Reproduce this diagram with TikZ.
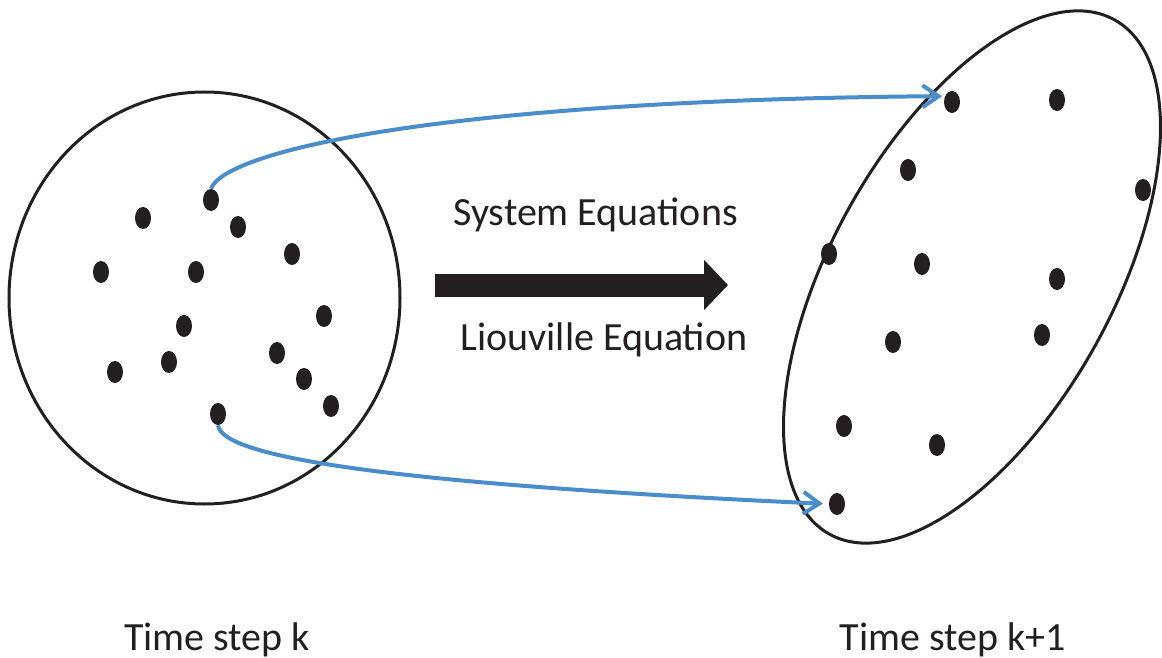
\documentclass[tikz,border=0pt]{standalone}
\usepackage{fontspec}
\setmainfont{Carlito}
\usetikzlibrary{arrows.meta,shapes.geometric}
\definecolor{flowblue}{RGB}{74,141,203}
\definecolor{inkblack}{RGB}{35,31,32}
\begin{document}
\begin{tikzpicture}[x=1pt,y=-1pt,
  dot/.style={ellipse,fill=inkblack,inner sep=0pt,minimum width=16pt,minimum height=22pt},
  flow/.style={flowblue,line width=4pt,-{Straight Barb[length=16pt,width=22pt]}},
  cloud/.style={inkblack,line width=3pt},
  txt/.style={font=\fontsize{40}{48}\selectfont,text=inkblack,anchor=base,inner sep=0pt}]
  \useasboundingbox (0,0) rectangle (1162,658);
  \draw[cloud] (204.5,298) ellipse [x radius=195.5,y radius=206];
  \draw[cloud] (972,277) ellipse [x radius=294,y radius=141,rotate=61];
  \foreach \x/\y [count=\i] in {143/218,211/200,238/227,292/254,101/272,196/272,324/316,184/326,277/353,169/362,115/372,304/379,331/406,218/414}
    \node[dot] (l\i) at (\x,\y) {};
  \foreach \x/\y [count=\i] in {952/102,1057/100,908/170,1143/190,829/254,922/264,1057/279,1042/335,893/342,844/426,937/445,837/504}
    \node[dot] (r\i) at (\x,\y) {};
  \draw[flow,shorten >=3pt] (l2.north) .. controls (225,150) and (450,100) .. (r1.140);
  \draw[flow,shorten >=6pt] (l14.south) .. controls (222,460) and (420,485) .. (r12.west);
  \coordinate (push0) at (435,285);
  \coordinate (push1) at (728,285);
  \draw[inkblack,line width=23pt,-{Triangle[length=24pt,width=49pt]}] (push0) -- (push1);
  \node[txt] (sys) at (595.5,225) {System Equations};
  \node[txt] (liou) at (604,350.7) {Liouville Equation};
  \node[txt] (tk) at (217,650) {Time step k};
  \node[txt] (tk1) at (953,650) {Time step k+1};
\end{tikzpicture}
\end{document}
